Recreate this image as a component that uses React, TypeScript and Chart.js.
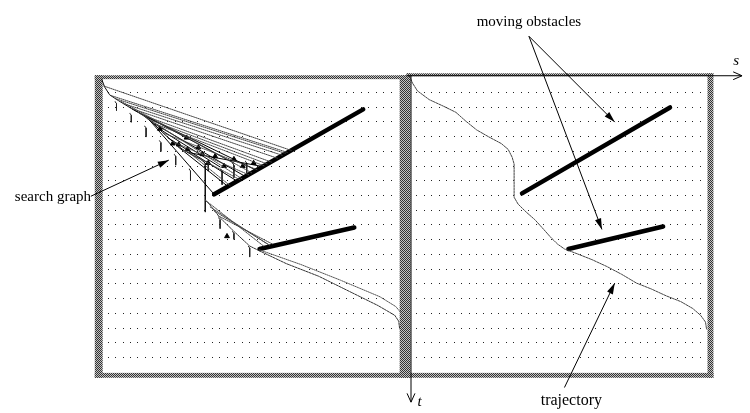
import React, { useEffect, useRef } from "react";
import { Chart, registerables } from "chart.js";
Chart.register(...registerables);

// Diagram coordinates (s to the right, t downward)
const trajectoryRight: [number, number][] = [
  [410, 73], [413, 80], [418, 88], [430, 97], [445, 104], [457, 110], [467, 119], [478, 128],
  [490, 135], [503, 142], [510, 148], [514, 156], [516, 163], [516, 197], [520, 204], [528, 212],
  [537, 220], [546, 230], [553, 238], [560, 245], [567, 250], [580, 255], [595, 261], [610, 268],
  [625, 276], [640, 285], [655, 291], [670, 298], [685, 304], [697, 311], [705, 318], [710, 325], [711, 332],
];
const trajectoryLeft: [number, number][] = [
  [98, 76], [101, 84], [106, 92], [115, 98], [128, 106], [140, 113], [150, 121], [160, 131],
  [170, 140], [180, 148], [190, 154], [198, 158], [203, 162], [203, 212],
];
const trajectoryLeftLower: [number, number][] = [
  [203, 200], [207, 204], [218, 218], [232, 232], [248, 247], [258, 252], [285, 265], [318, 278],
  [352, 295], [378, 308], [395, 318], [399, 324], [400, 332],
];
const trajectoryLeftAlt: [number, number][] = [
  [258, 251], [300, 266], [340, 282], [380, 299], [396, 309], [401, 315],
];

const obstacleLeft1: [number, number][] = [[212, 194], [363, 107]];
const obstacleLeft2: [number, number][] = [[258, 250], [354, 228]];
const obstacleRight1: [number, number][] = [[524, 193], [674, 105]];
const obstacleRight2: [number, number][] = [[571, 250], [667, 227]];

// search graph edges: [x1, y1, x2, y2]
const dottedEdges: number[][] = [
  [100, 83, 290, 149], [108, 93, 286, 151], [120, 101, 281, 154], [128, 106, 276, 157],
  [140, 113, 270, 161], [150, 121, 263, 165], [160, 131, 256, 169], [170, 140, 247, 174],
  [180, 148, 238, 179], [190, 154, 228, 185], [118, 99, 250, 172], [135, 110, 240, 178],
  [112, 96, 284, 152], [145, 117, 266, 163], [203, 200, 262, 247], [208, 207, 266, 245],
  [216, 216, 271, 245], [212, 211, 268, 246],
];
const solidEdges: number[][] = [
  [143, 114, 212, 194], [128, 106, 232, 162], [150, 121, 244, 176], [165, 136, 236, 181],
  [175, 145, 226, 186], [158, 128, 218, 166], [140, 113, 252, 168], [185, 151, 258, 165],
];
const hooks: number[][] = [
  [113, 99, 108], [128, 111, 120], [143, 124, 135], [158, 139, 150], [173, 153, 164],
  [188, 168, 179], [220, 168, 184], [232, 162, 177], [245, 160, 172], [218, 218, 229],
  [232, 232, 240], [248, 247, 258], [206, 160, 170],
];
const arrowMarks: [number, number][] = [
  [157, 127], [170, 142], [176, 143], [185, 148], [200, 153], [206, 162], [213, 155],
  [222, 165], [232, 158], [241, 165], [252, 162], [225, 237], [196, 146], [184, 136],
];

// annotation arrows: [fromX, fromY, toX, toY]
const annotationArrows: number[][] = [
  [87, 196, 166, 159],
  [531, 32, 618, 120],
  [531, 32, 605, 230],
  [567, 392, 618, 285],
];
const labels: { text: string; x: number; y: number; italic?: boolean; align?: CanvasTextAlign; size?: number }[] = [
  { text: "search graph", x: 10, y: 201, align: "left" },
  { text: "moving obstacles", x: 531, y: 22, align: "center" },
  { text: "trajectory", x: 574, y: 410, align: "center", size: 16 },
  { text: "s", x: 738, y: 62, italic: true, align: "left" },
  { text: "t", x: 418, y: 411, italic: true, align: "left" },
];

const pts = (a: [number, number][]) => a.map(([x, y]) => ({ x, y }));

export default function App() {
  const ref = useRef<HTMLCanvasElement | null>(null);
  useEffect(() => {
    document.body.style.margin = "0";
    const canvas = ref.current!;
    const pc = document.createElement("canvas");
    pc.width = 2; pc.height = 2;
    const pctx = pc.getContext("2d")!;
    pctx.fillStyle = "#c4c4c4"; pctx.fillRect(0, 0, 2, 2);
    pctx.fillStyle = "#333"; pctx.fillRect(0, 0, 1, 1); pctx.fillRect(1, 1, 1, 1);

    const line = (data: [number, number][], color: string, width: number, dash: number[] = []) => ({
      data: pts(data), showLine: true, borderColor: color, borderWidth: width, borderDash: dash,
      pointRadius: 0, borderCapStyle: "round" as const, tension: 0, fill: false,
    });
    const datasets: any[] = [];
    dottedEdges.forEach((e) => datasets.push(line([[e[0], e[1]], [e[2], e[3]]], "#444", 1, [1, 1])));
    solidEdges.forEach((e) => datasets.push(line([[e[0], e[1]], [e[2], e[3]]], "#000", 1)));
    hooks.forEach((h) => datasets.push(line([[h[0] - 1.5, h[1]], [h[0], h[1] + 2], [h[0], h[2]]], "#222", 1)));
    datasets.push(line(trajectoryLeft, "#111", 1));
    datasets.push(line(trajectoryLeftLower, "#333", 1, [2, 1]));
    datasets.push(line(trajectoryLeftAlt, "#555", 1, [1, 1]));
    datasets.push(line(trajectoryRight, "#444", 1, [2, 1]));
    datasets.push({
      data: pts(arrowMarks), showLine: false, pointStyle: "triangle", pointRadius: 2.8,
      pointRotation: 120, backgroundColor: "#000", borderColor: "#000", borderWidth: 1,
    });
    [obstacleLeft1, obstacleLeft2, obstacleRight1, obstacleRight2].forEach((o) =>
      datasets.push(line(o, "#000", 4.5))
    );

    const decor = {
      id: "decor",
      beforeDatasetsDraw(chart: any) {
        const ctx = chart.ctx;
        const X = (v: number) => chart.scales.x.getPixelForValue(v);
        const Y = (v: number) => chart.scales.y.getPixelForValue(v);
        ctx.save();
        // dot grid
        ctx.fillStyle = "#222";
        for (let r = 0; r < 19; r++) {
          const y = 89 + r * 15.1;
          for (let c = 0; c <= 38; c++) {
            ctx.fillRect(Math.round(X(104 + c * 7.55)), Math.round(Y(y)), 1, 1);
            ctx.fillRect(Math.round(X(417 + c * 7.55)), Math.round(Y(y)), 1, 1);
          }
        }
        // hatched panel borders
        const pat = ctx.createPattern(pc, "repeat");
        ctx.fillStyle = pat;
        const band = (x1: number, y1: number, x2: number, y2: number) =>
          ctx.fillRect(X(x1), Y(y1), X(x2) - X(x1), Y(y2) - Y(y1));
        band(91, 72, 99, 382); band(91, 72, 408, 76); band(400, 72, 408, 382); band(91, 377, 408, 382);
        band(407, 70, 411, 382); band(407, 70, 718, 73); band(712, 70, 718, 382); band(407, 377, 718, 382);
        ctx.restore();
      },
      afterDatasetsDraw(chart: any) {
        const ctx = chart.ctx;
        const X = (v: number) => chart.scales.x.getPixelForValue(v);
        const Y = (v: number) => chart.scales.y.getPixelForValue(v);
        ctx.save();
        ctx.strokeStyle = "#000";
        ctx.fillStyle = "#000";
        ctx.lineWidth = 1;
        ctx.beginPath();
        ctx.moveTo(X(411.5), Y(72)); ctx.lineTo(X(411.5), Y(407));
        ctx.moveTo(X(407), Y(72.5)); ctx.lineTo(X(747), Y(72.5));
        ctx.moveTo(X(407.5), Y(398)); ctx.lineTo(X(411.5), Y(407)); ctx.lineTo(X(415.5), Y(398));
        ctx.moveTo(X(738), Y(68.5)); ctx.lineTo(X(747), Y(72.5)); ctx.lineTo(X(738), Y(76.5));
        ctx.stroke();
        annotationArrows.forEach(([x1, y1, x2, y2]) => {
          const ax = X(x1), ay = Y(y1), bx = X(x2), by = Y(y2);
          const ang = Math.atan2(by - ay, bx - ax);
          ctx.beginPath(); ctx.moveTo(ax, ay); ctx.lineTo(bx, by); ctx.stroke();
          const L = 11, W = 3.2;
          ctx.beginPath();
          ctx.moveTo(bx, by);
          ctx.lineTo(bx - L * Math.cos(ang) + W * Math.sin(ang), by - L * Math.sin(ang) - W * Math.cos(ang));
          ctx.lineTo(bx - L * Math.cos(ang) - W * Math.sin(ang), by - L * Math.sin(ang) + W * Math.cos(ang));
          ctx.closePath(); ctx.fill();
        });
        ctx.textBaseline = "alphabetic";
        labels.forEach((l) => {
          ctx.font = `${l.italic ? "italic " : ""}${l.size || 15}px "Liberation Serif", serif`;
          ctx.textAlign = l.align || "left";
          ctx.fillText(l.text, X(l.x), Y(l.y));
        });
        ctx.restore();
      },
    };

    const chart = new Chart(canvas, {
      type: "scatter",
      data: { datasets },
      options: {
        animation: false,
        responsive: true,
        maintainAspectRatio: false,
        layout: { padding: 0 },
        plugins: { legend: { display: false }, tooltip: { enabled: false } },
        scales: {
          x: { type: "linear", min: 0, max: 750, display: false },
          y: { type: "linear", min: 0, max: 413, reverse: true, display: false },
        },
      },
      plugins: [decor],
    });
    return () => chart.destroy();
  }, []);
  return (
    <div style={{ position: "relative", width: 750, height: 413, background: "#fff" }}>
      <canvas ref={ref} />
    </div>
  );
}
